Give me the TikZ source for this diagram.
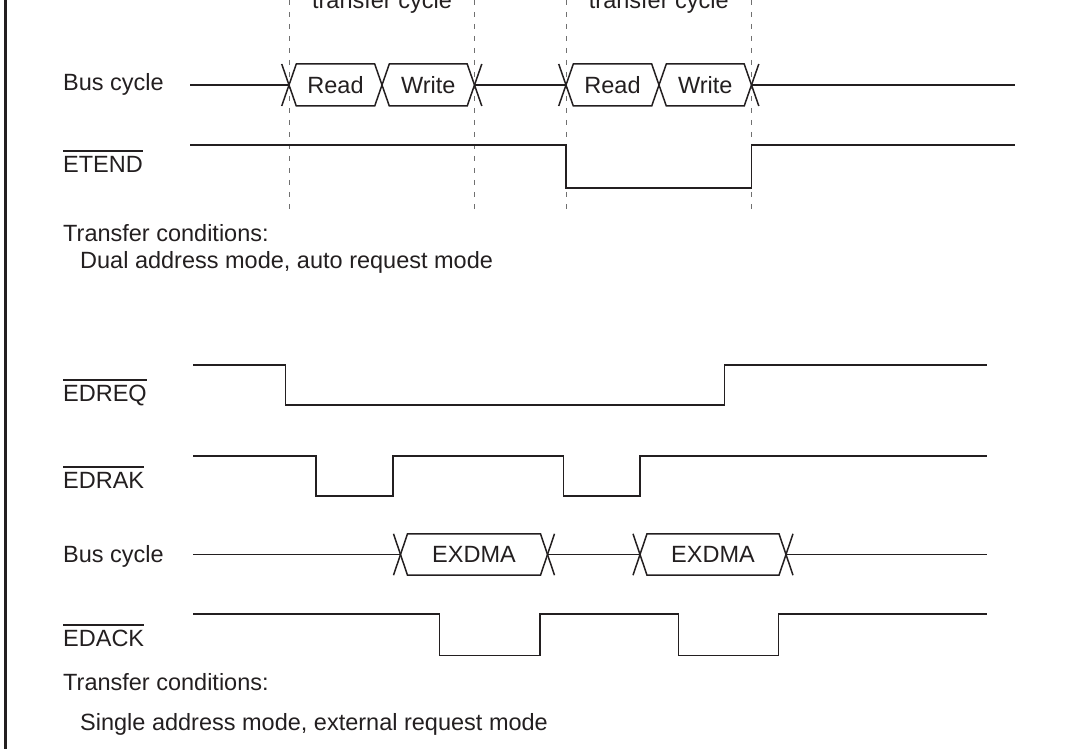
\documentclass[tikz,border=0pt]{standalone}
\usepackage{fontspec}
\setmainfont{Liberation Sans}
\definecolor{ink}{HTML}{231F20}
\definecolor{guidegray}{HTML}{707070}
\newcommand\fsz{\fontsize{23.5}{28}\selectfont}
% box from crossing #1 to crossing #2, centre line #3, half slant #4, half height #5, text #6, name #7
\newcommand\xbox[7]{%
  \draw[sig] (#1,#3) -- (#1+#4,#3-#5) -- (#2-#4,#3-#5) -- (#2,#3) -- (#2-#4,#3+#5) -- (#1+#4,#3+#5) -- cycle;
  \node[boxtext] (#7) at ({(#1+#2)/2},#3+8.4) {#6};}
% X ends: left extension at #1 / right extension at #1
\newcommand\xleft[4]{\draw[sig] (#1-#3,#2-#4) -- (#1,#2) -- (#1-#3,#2+#4);}
\newcommand\xright[4]{\draw[sig] (#1+#3,#2-#4) -- (#1,#2) -- (#1+#3,#2+#4);}
\begin{document}
\begin{tikzpicture}[x=1pt,y=-1pt,
  sig/.style={line width=1.5pt,draw=ink,line join=miter},
  guide/.style={line width=1pt,draw=guidegray,dash pattern=on 5pt off 7pt},
  lbl/.style={inner sep=0pt,anchor=base west,text=ink,font=\fsz},
  boxtext/.style={inner sep=0pt,anchor=base,text=ink,font=\fsz},
  ovl/.style={line width=1.4pt,draw=ink}]
\useasboundingbox (0,0) rectangle (1066,749);
\clip (0,0) rectangle (1066,749);

% left frame line
\draw[line width=2.5pt,draw=ink] (5.5,-2) -- (5.5,751);

% ---------- top section ----------
\foreach \gx in {289,474.5,566,751.5} \draw[guide] (\gx,0) -- (\gx,209);
\node[boxtext] (tc1) at (382,8.3) {transfer cycle};
\node[boxtext] (tc2) at (658.8,8.3) {transfer cycle};

\node[lbl] (bus1) at (63,91) {Bus cycle};
\draw[sig] (190,85) -- (289,85);
\xleft{289}{85}{7.3}{21}
\xbox{289}{382}{85}{7.3}{21}{Read}{rd1}
\xbox{382}{474.5}{85}{7.3}{21}{Write}{wr1}
\xright{474.5}{85}{7.3}{21}
\draw[sig] (474.5,85) -- (566,85);
\xleft{566}{85}{7.3}{21}
\xbox{566}{659}{85}{7.3}{21}{Read}{rd2}
\xbox{659}{751.5}{85}{7.3}{21}{Write}{wr2}
\xright{751.5}{85}{7.3}{21}
\draw[sig] (751.5,85) -- (1014.5,85);

\node[lbl] (etend) at (63,172.2) {ETEND};
\draw[ovl] ([yshift=5pt]etend.north west) -- ([yshift=5pt]etend.north east);
\draw[sig] (190,145) -- (566,145) -- (566,188) -- (751.5,188) -- (751.5,145) -- (1014.5,145);

\node[lbl] (tcond1) at (63,241.7) {Transfer conditions:};
\node[lbl] (mode1) at (80,268.3) {Dual address mode, auto request mode};

% ---------- bottom section ----------
\node[lbl] (edreq) at (63,401.7) {EDREQ};
\draw[ovl] ([yshift=5pt]edreq.north west) -- ([yshift=5pt]edreq.north east);
\draw[sig] (193,365) -- (285.3,365) -- (285.3,405) -- (724.3,405) -- (724.3,365) -- (987,365);

\node[lbl] (edrak) at (63,488.3) {EDRAK};
\draw[ovl] ([yshift=5pt]edrak.north west) -- ([yshift=5pt]edrak.north east);
\draw[sig] (193,456) -- (316,456) -- (316,496) -- (393,496) -- (393,456) -- (563.3,456) -- (563.3,496) -- (640,496) -- (640,456) -- (987,456);

\node[lbl] (bus2) at (63,562.5) {Bus cycle};
\draw[sig] (193,554.5) -- (400.5,554.5);
\xleft{400.5}{554.5}{7}{20.7}
\xbox{400.5}{547.5}{554.5}{7}{20.7}{EXDMA}{ex1}
\xright{547.5}{554.5}{7}{20.7}
\draw[sig] (547.5,554.5) -- (640,554.5);
\xleft{640}{554.5}{7}{20.7}
\xbox{640}{786}{554.5}{7}{20.7}{EXDMA}{ex2}
\xright{786}{554.5}{7}{20.7}
\draw[sig] (786,554.5) -- (987,554.5);

\node[lbl] (edack) at (63,646.7) {EDACK};
\draw[ovl] ([yshift=5pt]edack.north west) -- ([yshift=5pt]edack.north east);
\draw[sig] (193,614) -- (439.7,614) -- (439.7,655.4) -- (539.8,655.4) -- (539.8,614) -- (678.4,614) -- (678.4,655.4) -- (778.7,655.4) -- (778.7,614) -- (987,614);

\node[lbl] (tcond2) at (63,690.5) {Transfer conditions:};
\node[lbl] (mode2) at (80,730.4) {Single address mode, external request mode};
\end{tikzpicture}
\end{document}
